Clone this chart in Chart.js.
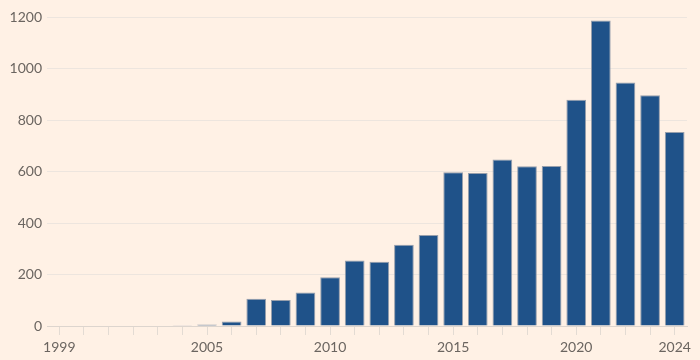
<!DOCTYPE html>
<html>
<head>
<meta charset="utf-8">
<script src="https://cdn.jsdelivr.net/npm/chart.js@4"></script>
<style>
  html, body { margin: 0; padding: 0; background: #fff1e5; }
  #wrap { width: 700px; height: 360px; position: relative; }
</style>
</head>
<body>
<div id="wrap"><canvas id="c" width="700" height="360"></canvas></div>
<script>
const years = ['1999','2000','2001','2002','2003','2004','2005','2006','2007','2008','2009','2010','2011','2012','2013','2014','2015','2016','2017','2018','2019','2020','2021','2022','2023','2024'];
const values = [0, 2, 2, 0, 0, 3, 6, 17, 106, 101, 130, 189, 254, 250, 316, 353, 597, 594, 647, 620, 621, 879, 1186, 946, 896, 753];
const shownYearLabels = ['1999','2005','2010','2015','2020','2024'];
const yTicks = [0, 200, 400, 600, 800, 1000, 1200];

Chart.defaults.font.family = 'Lato, "Noto Sans", sans-serif';
Chart.defaults.font.size = 14;
Chart.defaults.color = '#6b6560';

new Chart(document.getElementById('c'), {
  type: 'bar',
  data: {
    labels: years,
    datasets: [{
      data: values,
      backgroundColor: '#1f5289',
      borderColor: 'rgba(140,150,165,0.9)',
      borderWidth: 1,
      barPercentage: 0.8,
      categoryPercentage: 1.0
    }]
  },
  options: {
    responsive: false,
    animation: false,
    layout: { padding: { left: 0, right: 13, top: 17, bottom: 0 } },
    plugins: { legend: { display: false }, tooltip: { enabled: false } },
    scales: {
      x: {
        offset: true,
        border: { display: true, color: '#ddd5ce', width: 1 },
        grid: {
          offset: false,
          drawOnChartArea: false,
          drawTicks: true,
          tickLength: 9,
          color: '#e3dbd3'
        },
        ticks: {
          autoSkip: false,
          maxRotation: 0,
          padding: 4,
          color: '#6b6560',
          font: { size: 14 },
          callback: function(v, i) {
            const lab = years[i];
            return shownYearLabels.includes(lab) ? lab : '';
          }
        },
        afterFit: s => { s.height = 34; }
      },
      y: {
        min: 0,
        max: 1200,
        afterBuildTicks: s => { s.ticks = yTicks.map(v => ({ value: v })); },
        border: { display: false },
        grid: {
          drawTicks: false,
          color: ctx => ctx.tick && ctx.tick.value === 0 ? '#ddd5ce' : '#ede5de',
          lineWidth: 1
        },
        ticks: {
          padding: 5,
          color: '#6b6560',
          font: { size: 14 },
          callback: v => String(v)
        },
        afterFit: s => { s.width = 47; }
      }
    }
  },
  plugins: [{
    id: 'bg',
    beforeDraw: (chart) => {
      const ctx = chart.ctx;
      ctx.save();
      ctx.fillStyle = '#fff1e5';
      ctx.fillRect(0, 0, chart.width, chart.height);
      ctx.restore();
    }
  }]
});
</script>
</body>
</html>
